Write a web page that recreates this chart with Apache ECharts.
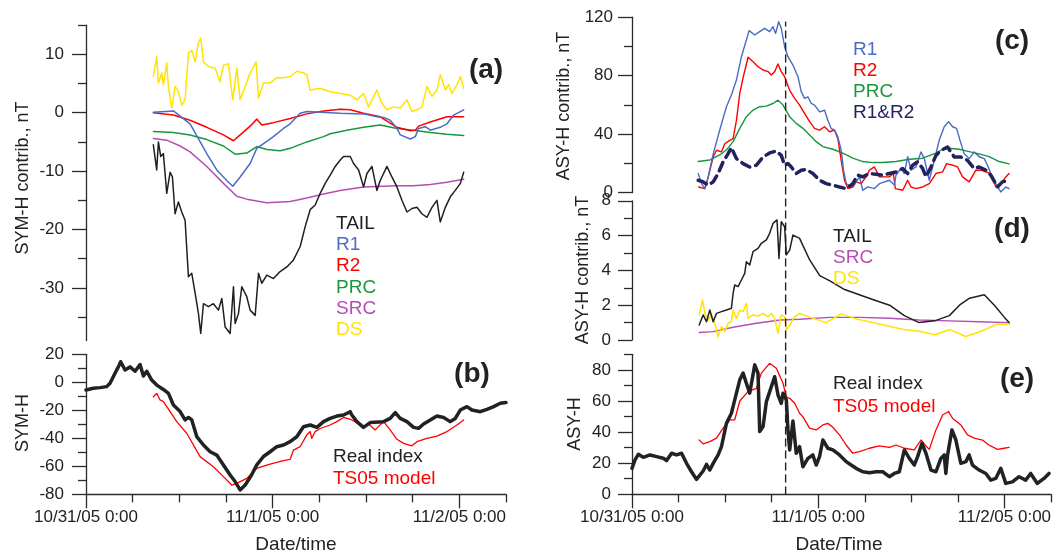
<!DOCTYPE html>
<html><head><meta charset="utf-8">
<script src="https://cdn.jsdelivr.net/npm/echarts@6/dist/echarts.min.js"></script>
<style>html,body{margin:0;padding:0;background:#fff}#c{width:1055px;height:554px}</style>
</head><body><div id="c"></div>
<script>
// ---- x axis (hours since 10/31/05 0:00) ----
const xTickLabels = ['10/31/05 0:00', '11/1/05 0:00', '11/2/05 0:00'];
const xLabelHours = [0, 24, 48];
const xMinorHours = [6, 12, 18, 30, 36, 42, 54];
const dashLineHour = 19.8;

// ---- panel (a) SYM-H contributions ----
const aTail = [[8.66,-5.5],[9.09,-9.8],[9.31,-5.0],[9.61,-7.5],[9.95,-7.0],[10.38,-13.8],[10.81,-10.2],[11.11,-11.0],[11.45,-17.3],[11.88,-15.3],[12.31,-17.0],[12.74,-18.4],[12.95,-18.7],[13.17,-28.1],[13.60,-27.5],[14.03,-30.9],[14.45,-34.3],[14.75,-37.8],[15.10,-32.7],[15.74,-33.2],[16.38,-32.7],[17.03,-33.8],[17.46,-31.8],[17.89,-36.7],[18.53,-37.8],[18.96,-29.8],[19.17,-36.1],[19.60,-34.4],[20.03,-29.8],[20.67,-31.5],[21.10,-33.8],[21.75,-34.7],[22.18,-27.5],[22.60,-29.2],[23.25,-27.8],[24.10,-28.4],[24.96,-27.2],[25.82,-26.4],[26.68,-25.2],[27.54,-22.9],[28.18,-19.5],[28.82,-16.6],[29.47,-15.8],[30.11,-13.8],[30.75,-12.1],[31.40,-10.7],[32.04,-9.2],[32.69,-8.1],[33.12,-7.5],[33.97,-7.5],[34.40,-8.7],[35.05,-9.8],[35.69,-12.7],[36.12,-10.4],[36.76,-9.2],[37.40,-13.3],[37.83,-11.6],[38.69,-9.2],[39.33,-11.0],[39.98,-12.7],[40.62,-15.0],[41.27,-17.0],[41.91,-16.4],[42.55,-16.2],[43.19,-17.3],[43.84,-17.9],[44.48,-16.2],[45.12,-15.0],[45.55,-18.7],[46.20,-16.2],[46.84,-14.4],[47.48,-13.3],[48.13,-12.1],[48.56,-10.2]];
const aR1 = [[8.66,0.1],[11.24,0.3],[13.38,-1.9],[15.53,-7.0],[16.81,-9.8],[18.10,-11.6],[18.87,-12.6],[19.82,-11.0],[21.10,-8.7],[21.96,-6.1],[24.10,-4.1],[25.39,-2.7],[26.25,-1.9],[27.54,-0.1],[28.39,0.2],[32.68,-0.1],[35.69,-0.2],[37.40,-0.7],[38.26,-0.8],[39.12,-1.3],[39.98,-2.7],[40.41,-3.8],[41.69,-4.5],[42.34,-4.1],[42.77,-2.7],[43.62,-2.4],[44.27,-3.0],[45.55,-2.5],[46.41,-1.9],[47.27,-0.4],[48.56,0.5]];
const aR2 = [[8.66,0],[11.24,-0.4],[13.38,-1.3],[15.53,-2.5],[17.67,-3.8],[18.96,-4.8],[19.82,-3.8],[21.10,-2.3],[21.96,-1.1],[22.60,-2.1],[24.10,-1.7],[26.25,-1.0],[28.39,-0.2],[30.54,0.3],[32.68,0.6],[33.97,0.5],[35.69,-0.1],[37.83,-0.7],[39.98,-2.5],[41.69,-3.1],[42.34,-3.0],[42.77,-2.3],[44.27,-1.6],[46.41,-0.7],[48.56,-0.7]];
const aPRC = [[8.66,-3.2],[11.24,-3.4],[13.38,-3.8],[15.53,-4.6],[17.67,-5.7],[19.17,-7.1],[20.67,-6.9],[21.96,-5.8],[23.25,-6.3],[24.96,-6.5],[26.25,-6.1],[28.39,-5.0],[30.54,-4.1],[31.40,-3.6],[33.54,-3.0],[35.69,-2.5],[37.83,-2.1],[39.98,-2.7],[42.12,-3.0],[44.27,-3.4],[46.41,-3.7],[48.56,-3.9]];
const aSRC = [[8.66,-4.4],[10.38,-4.7],[12.10,-5.7],[13.38,-6.7],[15.53,-9.2],[17.67,-12.1],[19.39,-14.3],[20.67,-14.8],[21.96,-15.1],[23.25,-15.4],[26.25,-15.2],[28.39,-14.6],[30.54,-13.9],[32.68,-13.3],[35.69,-12.7],[39.98,-12.5],[42.12,-12.5],[44.27,-12.3],[46.41,-11.9],[48.56,-11.4]];
const aDS = [[8.66,6.2],[9.09,9.6],[9.31,5.1],[9.74,6.8],[9.95,4.8],[10.38,8.5],[10.59,4.5],[11.02,0.8],[11.45,4.5],[11.88,3.6],[12.31,1.3],[12.74,2.2],[13.17,10.2],[13.60,10.7],[14.03,8.7],[14.45,11.9],[14.75,12.8],[15.10,8.7],[15.74,7.9],[16.60,7.6],[17.24,5.3],[17.67,8.1],[18.31,8.4],[18.87,2.2],[19.39,7.6],[19.82,2.2],[20.46,4.5],[21.10,6.8],[21.87,8.7],[22.18,2.5],[22.82,5.1],[23.68,5.1],[24.53,6.0],[25.39,6.0],[26.25,6.2],[27.11,7.1],[27.97,6.8],[28.39,6.5],[28.82,3.9],[30.11,4.2],[31.40,3.6],[32.69,3.3],[33.97,3.0],[34.83,2.2],[35.69,3.3],[36.33,1.0],[37.40,3.9],[38.05,1.6],[38.69,0.5],[39.55,1.0],[40.41,0.8],[41.27,2.2],[41.91,0.2],[42.55,0.5],[43.19,1.0],[43.84,4.5],[44.48,2.8],[45.12,3.9],[45.55,6.5],[46.20,3.9],[46.63,4.8],[47.05,3.3],[47.70,4.8],[48.13,6.2],[48.56,4.2]];

// ---- panel (b) SYM-H ----
const bReal = [[0,-5.5],[0.94,-4.3],[1.8,-3.8],[2.66,-3.1],[3.09,-0.7],[3.73,6.4],[4.16,11.0],[4.46,14.7],[5.02,8.8],[5.66,11.0],[6.31,7.9],[6.95,12.7],[7.38,4.5],[7.81,7.9],[8.45,1.6],[9.10,-2.0],[9.95,-5.1],[10.6,-7.9],[11.24,-16.2],[12.1,-20.9],[12.74,-26.9],[13.17,-25.1],[13.6,-26.9],[14.24,-38.8],[15.1,-44.8],[15.96,-49.6],[16.81,-52],[17.67,-59.0],[18.53,-66.2],[19.17,-70.9],[19.82,-76.9],[20.46,-73.4],[21.3,-66],[21.96,-59.0],[22.82,-53],[23.67,-49.6],[24.53,-46],[25.39,-44.8],[26.25,-42.4],[27.1,-38.9],[27.96,-31.7],[28.82,-30.5],[29.68,-32.2],[30.54,-28.1],[31.39,-25.8],[32.25,-24.1],[33.11,-23.4],[33.97,-21.0],[34.18,-23.4],[34.82,-28.1],[35.68,-32.2],[36.54,-28.8],[38.26,-28.1],[39.11,-25.8],[39.76,-21.7],[40.4,-25.8],[41.26,-28.1],[42.12,-32.2],[42.76,-32.9],[43.4,-29.8],[44.26,-26.9],[45.12,-24.1],[45.98,-25.1],[46.83,-28.1],[47.48,-25.8],[48.12,-19.8],[48.98,-17.4],[49.62,-19.8],[50.7,-21.0],[51.55,-19.3],[52.41,-17.4],[53.27,-15],[54.0,-14.5]];
const bModel = [[8.66,-10.3],[9.1,-7.9],[9.52,-12.6],[9.95,-13.8],[10.38,-17.4],[11.67,-28.1],[12.95,-36.4],[14.67,-53.1],[16.38,-60.3],[17.67,-67.4],[18.74,-73.4],[19.39,-72.2],[20.67,-68.6],[21.53,-63.8],[21.96,-61.5],[22.82,-59.8],[23.67,-58.4],[25.39,-56],[26.25,-55],[26.68,-48.4],[27.53,-46],[28.39,-37.6],[28.82,-35.2],[29.03,-40],[29.46,-35.2],[30.11,-33],[31.39,-30.5],[32.25,-28.1],[33.11,-25.1],[33.97,-26.4],[34.82,-28.8],[35.68,-32.2],[36.33,-29.8],[37.18,-34.0],[38.26,-28.1],[39.11,-34.0],[39.97,-40.7],[40.83,-43.6],[41.9,-45.4],[42.55,-42.4],[43.83,-40],[45.12,-38.4],[46.41,-35.2],[47.69,-30.5],[48.55,-26.9]];

// ---- panel (c) ASY-H contributions ----
const cR1 = [[8.53,13.2],[8.96,6.2],[9.39,2.8],[9.81,10.5],[10.46,26.4],[11.31,42.9],[12.17,58.8],[12.81,66.8],[13.46,77],[14.1,93],[14.74,104.4],[15.09,110.8],[15.81,107.8],[16.46,110.1],[17.1,112.4],[17.74,110.1],[18.17,113.5],[18.51,108.9],[18.9,116.9],[19.24,112.4],[19.67,99.8],[20.1,93],[20.74,87.3],[21.39,79.3],[21.81,69.1],[22.24,64.5],[22.67,65.6],[23.1,61],[23.53,59.9],[24.17,55.3],[24.82,56.4],[25.24,49.6],[25.67,43.9],[26.1,42.8],[26.53,38.2],[26.96,29.1],[27.26,15.4],[27.6,6.3],[28.24,4],[28.89,7.4],[29.32,10.8],[29.74,1.7],[30.39,4],[31.24,2.8],[31.89,6.2],[33.17,8.5],[33.81,5.2],[34.03,12.1],[34.67,16.7],[35.1,13.1],[35.53,24.6],[35.96,15.4],[36.6,17.6],[37.24,27.9],[37.67,23.3],[38.31,8.5],[38.96,22.2],[39.6,36.0],[40.24,45.1],[40.8,48.6],[41.32,45.1],[41.83,44],[42.26,36.0],[42.81,26.7],[43.46,23.3],[44.1,27.9],[44.74,24.6],[45.39,23.3],[45.82,18.8],[46.24,13.1],[46.89,6.2],[47.53,0.5],[48.17,3.9],[48.6,2.8]];
const cR2 = [[8.6,3.9],[9.39,2.8],[9.81,10.5],[10.46,24.4],[10.89,29],[11.53,27.9],[11.96,33.5],[12.6,35.8],[13.03,36.9],[13.46,49.4],[13.89,67.9],[14.4,80.5],[14.96,92.6],[15.6,89.6],[16.24,86.2],[16.89,83.9],[17.53,82.8],[17.96,80.5],[18.39,82.8],[18.81,88.0],[19.24,82.8],[19.67,79.3],[20.31,70.2],[20.96,64.5],[21.6,59.9],[22.24,54.2],[22.89,48.6],[23.53,44],[24.17,42.8],[24.82,45.1],[25.46,41.7],[26.1,42.8],[26.53,36.9],[26.96,22.1],[27.39,8.4],[27.81,2.8],[28.46,3.9],[28.89,7.4],[29.53,6.2],[30.17,10.8],[30.6,15.4],[31.24,17.6],[31.89,10.8],[33.17,10.8],[33.69,13.1],[33.94,2.8],[34.89,1.7],[35.53,8.5],[35.96,3.9],[36.6,2.8],[37.46,3.9],[38.31,6.2],[39.17,13.1],[40.03,14.2],[40.54,19.9],[41.32,18.8],[41.96,17.6],[42.6,10.8],[43.46,7.4],[44.31,15.4],[44.96,15.4],[45.6,14.2],[46.24,13.1],[46.89,3.9],[47.53,6.2],[48.17,10.8],[48.6,13.1]];
const cPRC = [[8.53,21.3],[10.03,22.4],[11.31,25.8],[12.17,29.2],[13.03,34.9],[13.89,44],[14.74,52],[15.6,56.5],[16.46,58.8],[17.31,59.2],[18.17,61],[18.81,63.3],[19.46,59.9],[20.31,52],[21.17,47.4],[22.03,44],[22.89,39.5],[23.74,34.9],[24.6,31.5],[25.89,29.7],[27.17,27],[28.46,23.6],[29.74,21.3],[31.03,20.6],[32.31,20.6],[34.03,21.3],[35.74,22.9],[37.46,23.6],[39.17,27],[40.03,29.7],[40.89,30.4],[42.17,29.7],[43.46,28.1],[44.74,26.5],[46.03,24.7],[47.32,21.3],[48.6,19.7]];
const cR1R2 = [[8.53,8.5],[9.17,7.4],[9.81,5.1],[10.46,7.4],[11.1,13.1],[11.74,21.1],[12.39,26.7],[12.81,30.8],[13.46,23.3],[14.31,19.9],[15.17,17.6],[16.03,18.8],[16.89,24.4],[17.74,27.2],[18.6,28.5],[19.24,25.5],[19.67,18.8],[20.1,19.9],[20.53,17.6],[21.17,13.1],[21.81,15.4],[22.46,15.9],[23.31,13.1],[24.17,8.5],[25.03,6.2],[25.89,5.1],[26.74,3.9],[27.6,2.8],[28.46,6.2],[29.1,12.0],[29.74,10.8],[30.6,13.1],[31.46,12.6],[32.31,12],[33.17,13.1],[34.03,14.2],[34.89,16.5],[35.53,13.1],[36.17,18.8],[36.81,21.1],[37.46,16.5],[37.89,10.8],[38.53,17.6],[39.17,25.5],[39.81,28.9],[40.67,31.2],[41.53,24.4],[42.39,24.4],[43.24,22.1],[44.1,16.5],[44.74,17.6],[45.6,15.4],[46.24,12],[47.1,3.9],[47.74,7.4],[48.6,8.5]];

// ---- panel (d) ASY-H contributions ----
const dTail = [[8.66,0.86],[9.17,1.44],[9.6,1.05],[10.03,1.72],[10.46,1.05],[10.89,1.53],[11.53,1.63],[12.17,1.72],[12.81,1.82],[13.03,2.68],[13.24,3.16],[13.67,3.07],[14.1,3.45],[14.53,3.83],[14.74,4.5],[15.17,4.31],[15.6,5.08],[16.24,5.27],[16.67,5.56],[17.32,5.75],[17.74,6.13],[18.17,6.7],[18.69,6.9],[18.94,4.69],[19.24,6.8],[19.67,6.51],[19.89,4.89],[20.32,5.17],[20.74,6.03],[21.6,5.84],[22.9,4.6],[24.2,3.7],[25.5,3.4],[27.4,2.9],[29.3,2.6],[31.2,2.3],[33.2,2.0],[35.1,1.4],[37.0,1.0],[39.0,1.1],[40.9,1.4],[42.2,2.0],[43.5,2.4],[45.4,2.6],[46.7,2.0],[48.0,1.3],[48.6,1.0]];
const dSRC = [[8.66,0.43],[10.46,0.48],[13.03,0.73],[16.03,0.96],[19.1,1.15],[21.6,1.19],[25.5,1.3],[29.3,1.3],[33.2,1.25],[37.0,1.15],[40.9,1.1],[44.7,1.05],[48.6,1.0]];
const dDS = [[8.66,1.44],[9.09,2.3],[9.39,1.53],[9.81,1.15],[10.24,1.44],[10.67,0.96],[11.1,0.19],[11.53,0.77],[11.96,0.48],[12.39,0.96],[12.81,1.05],[13.03,1.72],[13.46,1.24],[13.89,1.72],[14.31,1.63],[14.74,2.11],[14.96,1.24],[15.6,1.44],[16.24,1.38],[16.89,1.53],[17.53,1.34],[17.96,1.53],[18.39,1.24],[18.81,0.38],[19.24,1.44],[19.67,1.34],[19.89,0.57],[20.32,0.86],[20.96,1.34],[21.6,1.53],[23,1.3],[25,1.0],[27,1.5],[29,1.2],[31,1.0],[33,0.8],[35,0.6],[37,0.5],[39,0.3],[41,0.6],[43,0.2],[45,0.5],[47,0.9],[48.6,0.9]];

// ---- panel (e) ASY-H ----
const eReal = [[0,16.7],[0.39,22.1],[0.81,25.7],[1.46,23.8],[2.31,25.3],[3.17,24.2],[4.03,23.2],[4.46,21.7],[5.10,26.4],[5.74,25.3],[6.39,26.4],[7.03,19.9],[7.67,14.5],[8.31,9.6],[8.53,9.0],[9.17,15.0],[9.6,19.2],[10.03,15.6],[10.46,19.9],[11.1,25.3],[11.53,30.6],[12.17,45.6],[12.81,52.1],[13.24,60.7],[13.89,73.6],[14.32,77.9],[14.74,71.4],[15.17,65],[15.82,83.2],[16.24,77.9],[16.46,40.3],[16.89,43.5],[17.32,59.6],[17.96,69.2],[18.39,75.6],[18.82,63.8],[19.24,58.5],[19.46,65],[19.89,60.7],[20.1,41.4],[20.32,28.5],[20.74,47.1],[21.17,26.4],[21.6,30.6],[22.02,17.7],[22.67,23.1],[23.31,25.3],[23.74,18.8],[24.17,24.2],[24.6,34.9],[25.24,29.6],[25.88,28.5],[26.74,25.3],[27.6,21.0],[28.24,18.8],[28.88,16.7],[29.74,14.5],[30.6,13.9],[31.45,14.5],[32.31,14.5],[33.17,11.3],[33.81,13.4],[34.45,14.5],[35.1,28.5],[35.74,23.1],[36.38,18.8],[36.81,24.2],[37.37,32.8],[37.88,26.4],[38.53,15.6],[39.17,14.5],[39.81,23.1],[40.24,25.3],[40.45,13.4],[40.67,25.3],[41.23,41.4],[41.74,34.9],[42.38,19.9],[43.03,21.0],[43.45,25.3],[43.88,18.8],[44.74,15.6],[45.6,13.4],[46.24,9.1],[46.88,10.2],[47.53,16.7],[48.17,7.0],[49.03,8.0],[49.88,11.3],[50.74,9.1],[51.38,13.4],[52.24,7.0],[53.1,10.2],[53.74,13.4]];
const eModel = [[8.66,34.9],[9.17,32.4],[10.03,33.9],[10.89,36.1],[11.74,42.5],[12.6,47.9],[13.24,47.9],[13.89,60.0],[14.96,66.0],[16.03,68.1],[16.67,77.9],[17.74,84.2],[18.6,81],[19.46,71.4],[19.89,62.7],[20.32,61.7],[20.96,58.5],[21.17,56.4],[21.6,52.1],[22.02,49.9],[22.88,42.5],[23.74,41.4],[24.6,44.6],[25.24,45.6],[25.88,43.1],[26.74,38.2],[27.6,31.7],[28.45,26.4],[29.31,27.4],[30.6,29.6],[31.88,31.1],[33.17,30.2],[34.02,31.7],[35.1,29.6],[36.38,28.5],[37.24,34.9],[37.88,31.1],[38.31,28.9],[39.17,41.4],[40.03,51.0],[40.8,53.2],[41.31,48.9],[42.38,44.6],[43.24,38.2],[44.1,36.1],[45.17,34.9],[45.99,31.7],[47.1,28.9],[47.95,29.6],[48.6,30.2]];

// ---- y tick values ----
const aYLabels = [-30,-20,-10,0,10], aYMinor = [-35,-25,-15,-5,5,15];
const bYLabels = [-80,-60,-40,-20,0,20], bYMinor = [-70,-50,-30,-10,10];
const cYLabels = [0,40,80,120], cYMinor = [20,60,100];
const dYLabels = [0,2,4,6,8], dYMinor = [1,3,5,7];
const eYLabels = [0,20,40,60,80], eYMinor = [10,30,50,70,90];

// ---- colours ----
const C = {tail:'#202020', r1:'#4a6cc4', r2:'#ff0000', prc:'#17983c', src:'#b64db2', ds:'#ffe400', r1r2:'#22225e', real:'#222222', model:'#ff0000'};
const FONT = 'Liberation Sans, Arial, sans-serif';
const AX = '#2a2a2a';

const grids = [
  {left:86, top:25.1, width:420, height:315.4},   // a
  {left:86, top:354.3, width:420, height:140},    // b
  {left:632, top:17.2, width:419, height:175.5},  // c
  {left:632, top:200.8, width:419, height:139.2}, // d
  {left:632, top:354.3, width:419, height:140},   // e
  {left:632, top:22, width:419, height:472}       // overlay for dashed marker
];

function hiddenX(gi){ return {type:'value', gridIndex:gi, min:0, max:54, show:false}; }
function mainX(gi){
  return {type:'value', gridIndex:gi, min:0, max:54, position:'bottom',
    axisLine:{show:true, onZero:false, lineStyle:{color:AX, width:1.3}},
    axisTick:{show:true, length:14, customValues:xLabelHours, lineStyle:{color:AX, width:1.3}},
    axisLabel:{show:true, customValues:xLabelHours, margin:15, color:'#222', fontSize:17, fontFamily:FONT,
      formatter:v => xTickLabels[xLabelHours.indexOf(Math.round(v))] || ''},
    splitLine:{show:false}};
}
function minorX(gi){
  return {type:'value', gridIndex:gi, min:0, max:54, position:'bottom',
    axisLine:{show:false, onZero:false},
    axisTick:{show:true, length:8, customValues:xMinorHours, lineStyle:{color:AX, width:1.3}},
    axisLabel:{show:false}, splitLine:{show:false}};
}
function mainY(gi, min, max, labels, margin){
  return {type:'value', gridIndex:gi, min, max, position:'left',
    axisLine:{show:true, onZero:false, lineStyle:{color:AX, width:1.3}},
    axisTick:{show:true, length:14, customValues:labels, lineStyle:{color:AX, width:1.3}},
    axisLabel:{show:true, customValues:labels, margin, color:'#222', fontSize:17, fontFamily:FONT},
    splitLine:{show:false}};
}
function minorY(gi, min, max, ticks){
  return {type:'value', gridIndex:gi, min, max, position:'left',
    axisLine:{show:false, onZero:false},
    axisTick:{show:true, length:8, customValues:ticks, lineStyle:{color:AX, width:1.3}},
    axisLabel:{show:false}, splitLine:{show:false}};
}

const xAxis = [hiddenX(0), mainX(1), hiddenX(2), hiddenX(3), mainX(4), hiddenX(5), minorX(1), minorX(4)];
const yAxis = [
  mainY(0,-39,15,aYLabels,22), mainY(1,-80,20,bYLabels,22), mainY(2,0,120,cYLabels,19),
  mainY(3,0,8,dYLabels,21), mainY(4,0,90,eYLabels,21),
  {type:'value', gridIndex:5, min:0, max:1, show:false},
  minorY(0,-39,15,aYMinor), minorY(1,-80,20,bYMinor), minorY(2,0,120,cYMinor),
  minorY(3,0,8,dYMinor), minorY(4,0,90,eYMinor)
];

function ln(gi, data, color, width, type){
  return {type:'line', xAxisIndex:gi, yAxisIndex:gi, data, showSymbol:false, symbol:'none',
    animation:false, silent:true,
    lineStyle:{color, width, type: type || 'solid', cap:'round', join:'round'}};
}

const series = [
  ln(0, aDS, C.ds, 1.5), ln(0, aSRC, C.src, 1.5), ln(0, aPRC, C.prc, 1.5),
  ln(0, aR2, C.r2, 1.5), ln(0, aR1, C.r1, 1.5), ln(0, aTail, C.tail, 1.5),
  ln(1, bModel, C.model, 1.3), ln(1, bReal, C.real, 3.5),
  ln(2, cPRC, C.prc, 1.4), ln(2, cR2, C.r2, 1.4), ln(2, cR1, C.r1, 1.4), ln(2, cR1R2, C.r1r2, 3.5, [9,6]),
  ln(3, dSRC, C.src, 1.4), ln(3, dDS, C.ds, 1.5), ln(3, dTail, C.tail, 1.5),
  ln(4, eModel, C.model, 1.3), ln(4, eReal, C.real, 3.5),
  ln(5, [[dashLineHour,0],[dashLineHour,1]], '#222', 1.4, [7,5])
];

function txt(x, y, text, color, size, opts){
  opts = opts || {};
  return {type:'text', x, y, rotation: opts.rot || 0, silent:true, z:100,
    style:{text, fill:color, fontSize:size, fontFamily:FONT, fontWeight: opts.bold ? 'bold' : 'normal',
      align: opts.align || 'left', verticalAlign:'middle'}};
}

const graphic = [
  txt(23,178,'SYM-H contrib., nT','#222',18,{rot:Math.PI/2, align:'center'}),
  txt(23,423,'SYM-H','#222',18,{rot:Math.PI/2, align:'center'}),
  txt(564,106,'ASY-H contrib., nT','#222',18,{rot:Math.PI/2, align:'center'}),
  txt(583,270,'ASY-H contrib., nT','#222',18,{rot:Math.PI/2, align:'center'}),
  txt(575,424,'ASY-H','#222',18,{rot:Math.PI/2, align:'center'}),
  txt(296,545,'Date/time','#222',19,{align:'center'}),
  txt(839,545,'Date/Time','#222',19,{align:'center'}),
  txt(486,70,'(a)','#222',28,{bold:true, align:'center'}),
  txt(472,374,'(b)','#222',28,{bold:true, align:'center'}),
  txt(1012,41,'(c)','#222',28,{bold:true, align:'center'}),
  txt(1012,229,'(d)','#222',28,{bold:true, align:'center'}),
  txt(1017,379,'(e)','#222',28,{bold:true, align:'center'}),
  txt(336,224,'TAIL',C.tail,19), txt(336,245,'R1',C.r1,19), txt(336,266,'R2',C.r2,19),
  txt(336,288,'PRC',C.prc,19), txt(336,309,'SRC',C.src,19), txt(336,330,'DS',C.ds,19),
  txt(853,50,'R1',C.r1,19), txt(853,71,'R2',C.r2,19), txt(853,92,'PRC',C.prc,19), txt(853,113,'R1&R2',C.r1r2,19),
  txt(833,237,'TAIL',C.tail,19), txt(833,258,'SRC',C.src,19), txt(833,279,'DS',C.ds,19),
  txt(333,457,'Real index','#222',19), txt(333,479,'TS05 model',C.model,19),
  txt(833,384,'Real index','#222',19), txt(833,407,'TS05 model',C.model,19)
];

const chart = echarts.init(document.getElementById('c'), null, {renderer:'canvas'});
chart.setOption({
  backgroundColor:'#ffffff', animation:false,
  grid: grids.map(g => Object.assign({containLabel:false}, g)),
  xAxis, yAxis, series, graphic
});
</script></body></html>
